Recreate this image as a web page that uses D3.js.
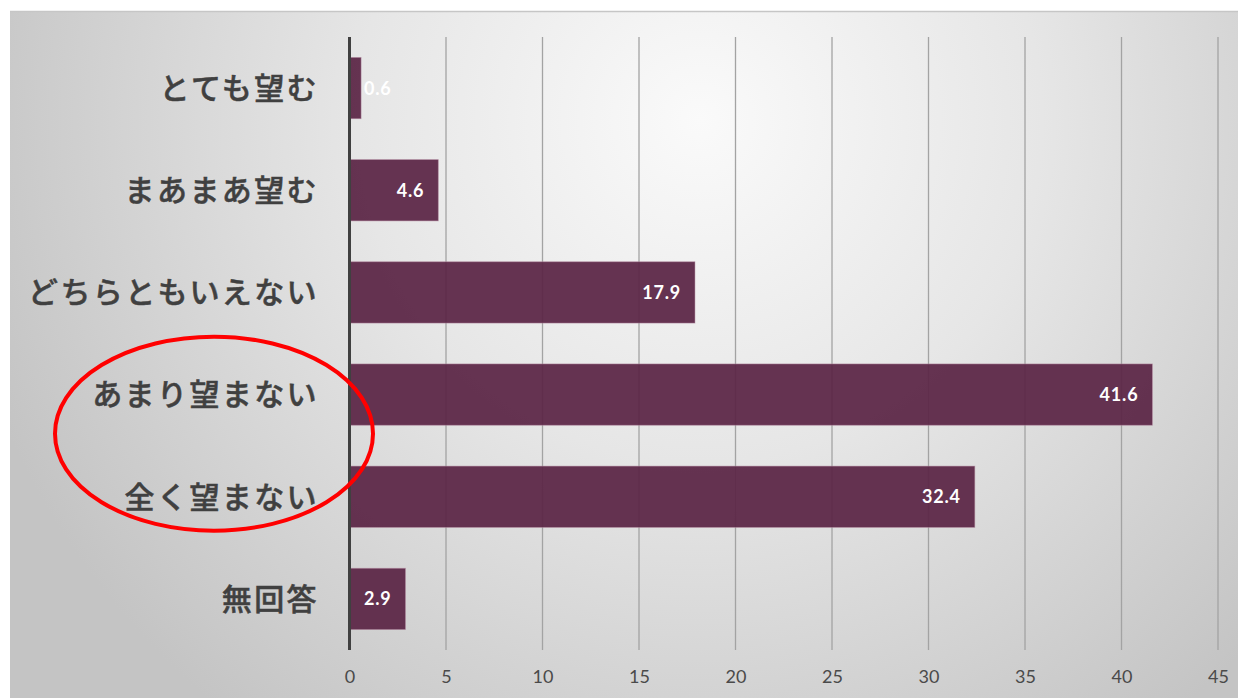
<!DOCTYPE html>
<html>
<head>
<meta charset="utf-8">
<script src="https://cdn.jsdelivr.net/npm/d3@7"></script>
<style>
  html, body { margin: 0; padding: 0; background: #ffffff; }
  svg { display: block; }
</style>
</head>
<body>
<svg id="chart" width="1238" height="698"></svg>
<script>
// Survey answers and share of respondents (%)
const categories = ["とても望む", "まあまあ望む", "どちらともいえない", "あまり望まない", "全く望まない", "無回答"];
const values = [0.6, 4.6, 17.9, 41.6, 32.4, 2.9];
const tickValues = [0, 5, 10, 15, 20, 25, 30, 35, 40, 45];
const highlighted = ["あまり望まない", "全く望まない"];

const W = 1238, H = 698;
const svg = d3.select("#chart");
const defs = svg.append("defs");

// soft radial backdrop, light near the top centre, greyer toward the edges
const grad = defs.append("radialGradient")
  .attr("id", "bg").attr("gradientUnits", "userSpaceOnUse")
  .attr("cx", 700).attr("cy", 120).attr("r", 760);
grad.append("stop").attr("offset", "0%").attr("stop-color", "#fafafa");
grad.append("stop").attr("offset", "45%").attr("stop-color", "#e6e6e6");
grad.append("stop").attr("offset", "100%").attr("stop-color", "#c4c4c4");

const panel = { x: 10, y: 11, w: W - 10, h: H - 11 };
svg.append("rect")
  .attr("x", panel.x).attr("y", panel.y)
  .attr("width", panel.w).attr("height", panel.h)
  .attr("fill", "url(#bg)");
svg.append("line")
  .attr("x1", panel.x).attr("x2", W)
  .attr("y1", panel.y + 0.5).attr("y2", panel.y + 0.5)
  .attr("stroke", "#c6c6c6").attr("stroke-width", 1.5);

const plot = { left: 349.5, right: 1218, top: 37, bottom: 650 };

const x = d3.scaleLinear().domain([0, 45]).range([plot.left, plot.right]);
const y = d3.scaleBand().domain(categories)
  .range([plot.top, plot.bottom]).paddingInner(0.4).paddingOuter(0.2);

// vertical gridlines
svg.append("g")
  .selectAll("line")
  .data(tickValues.filter(d => d > 0))
  .join("line")
  .attr("x1", d => x(d)).attr("x2", d => x(d))
  .attr("y1", plot.top).attr("y2", plot.bottom)
  .attr("stroke", "#a3a3a3").attr("stroke-width", 1.3);

// bars
svg.append("g")
  .selectAll("rect")
  .data(values)
  .join("rect")
  .attr("x", x(0))
  .attr("y", (d, i) => y(categories[i]))
  .attr("width", d => x(d) - x(0))
  .attr("height", y.bandwidth())
  .attr("fill", "#5a2545")
  .attr("fill-opacity", 0.93)
  .attr("stroke", "#b48aa0")
  .attr("stroke-opacity", 0.6)
  .attr("stroke-width", 0.8);

// value labels at the inner end of each bar
svg.append("g")
  .selectAll("text")
  .data(values)
  .join("text")
  .attr("x", d => Math.max(x(d) - 14, x(0) + 42))
  .attr("y", (d, i) => y(categories[i]) + y.bandwidth() / 2)
  .attr("dy", "0.36em")
  .attr("text-anchor", "end")
  .attr("fill", "#ffffff")
  .attr("font-family", "Lato, 'Open Sans', sans-serif")
  .attr("font-weight", 700)
  .attr("font-size", 18)
  .attr("letter-spacing", 0.8)
  .text(d => d.toFixed(1));

// category axis line
svg.append("line")
  .attr("x1", x(0)).attr("x2", x(0))
  .attr("y1", plot.top).attr("y2", plot.bottom)
  .attr("stroke", "#404040").attr("stroke-width", 3);

// category labels
svg.append("g")
  .selectAll("text")
  .data(categories)
  .join("text")
  .attr("x", 319)
  .attr("y", d => y(d) + y.bandwidth() / 2)
  .attr("dy", "0.36em")
  .attr("text-anchor", "end")
  .attr("fill", "#404040")
  .attr("stroke", "#404040")
  .attr("stroke-width", 0.5)
  .attr("font-family", "'Noto Sans CJK JP', sans-serif")
  .attr("font-weight", 500)
  .attr("font-size", 30)
  .attr("letter-spacing", 2.4)
  .text(d => d);

// value axis tick labels
const xAxis = d3.axisBottom(x).tickValues(tickValues).tickSize(0).tickPadding(0);
const gx = svg.append("g")
  .attr("transform", `translate(0, ${plot.bottom + 20})`)
  .call(xAxis);
gx.select(".domain").remove();
gx.selectAll("text")
  .attr("fill", "#4a4a4a")
  .attr("font-family", "Lato, 'Open Sans', sans-serif")
  .attr("font-size", 18);

// red ring around the two negative answers
const hi = highlighted.map(d => y(d) + y.bandwidth() / 2);
const cy = (hi[0] + hi[1]) / 2 - 12;
svg.append("ellipse")
  .attr("cx", 214).attr("cy", cy)
  .attr("rx", 159).attr("ry", 97)
  .attr("fill", "none")
  .attr("stroke", "#ff0000")
  .attr("stroke-width", 4);
</script>
</body>
</html>
